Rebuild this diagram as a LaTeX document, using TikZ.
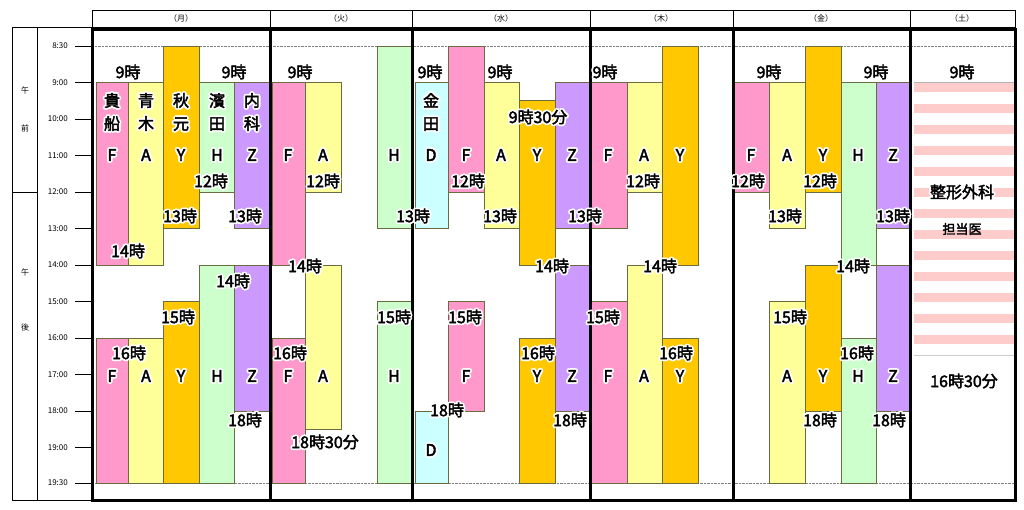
\documentclass[tikz,border=0pt]{standalone}
\usepackage{fontspec}
\newfontfamily\jp{Noto Sans CJK JP}[AutoFakeBold=2.5]
\definecolor{cF}{HTML}{FF99CC}
\definecolor{cA}{HTML}{FFFF99}
\definecolor{cY}{HTML}{FFC800}
\definecolor{cH}{HTML}{CCFFCC}
\definecolor{cZ}{HTML}{CC99FF}
\definecolor{cD}{HTML}{CCFFFF}
\definecolor{cS}{HTML}{FFCCCC}
\definecolor{bord}{HTML}{6B6B40}
\newcommand\tyy[2]{\pgfmathsetmacro#1{#2<9?46:(#2>19?483:82.5+(#2-9)*36.5)}}
\newcommand\tb[5]{\tyy\ya{#3}\tyy\yb{#4}\draw[bb,fill=#5] (#1,\ya) rectangle (#2,\yb);}
\newcommand\lb[3]{\foreach \dx/\dy in {1.8/0,-1.8/0,0/1.8,0/-1.8,1.3/1.3,-1.3/1.3,1.3/-1.3,-1.3/-1.3}{\node[lbl,text=white] at (#1+\dx,#2+\dy){#3};}\node[lbl] at (#1,#2){#3};}
\begin{document}
\begin{tikzpicture}[x=1pt,y=-1pt,
  bb/.style={draw=bord,line width=0.6pt},
  lbl/.style={font=\jp\fontsize{16}{23}\selectfont\bfseries,inner sep=0pt,align=center},
  small/.style={font=\jp\fontsize{8}{9}\selectfont,inner sep=0pt},
  thick frame/.style={line width=3pt,line cap=rect}]
\useasboundingbox[fill=white] (0,0) rectangle (1024,509);
% Saturday stripes
\foreach \k in {0,...,12}{\fill[cS] (914,82.5+\k*21) rectangle (1015,82.5+\k*21+9);}
\draw[gray!40] (914,355.5) -- (1015,355.5);
\draw[gray!60] (914,82.5) -- (1015,82.5);
% dotted lines
\draw[gray,densely dotted] (92,46) -- (1015,46);
\draw[gray,densely dotted] (92,483) -- (1015,483);
% Monday
\tb{96}{128}{9}{14}{cF}\tb{96}{128}{16}{19.5}{cF}
\tb{128}{163}{9}{14}{cA}\tb{128}{163}{16}{19.5}{cA}
\tb{163}{199}{8.5}{13}{cY}\tb{163}{199}{15}{19.5}{cY}
\tb{199}{234}{9}{12}{cH}\tb{199}{234}{14}{19.5}{cH}
\tb{234}{269}{9}{13}{cZ}\tb{234}{269}{14}{18}{cZ}
% Tuesday
\tb{272}{305}{9}{14}{cF}\tb{272}{305}{16}{19.5}{cF}
\tb{305}{341}{9}{12}{cA}\tb{305}{341}{14}{18.5}{cA}
\tb{377}{411}{8.5}{13}{cH}\tb{377}{411}{15}{19.5}{cH}
% Wednesday
\tb{415}{448}{9}{13}{cD}\tb{415}{448}{18}{19.5}{cD}
\tb{448}{484}{8.5}{12}{cF}\tb{448}{484}{15}{18}{cF}
\tb{484}{519}{9}{13}{cA}
\tb{519}{555}{9.5}{14}{cY}\tb{519}{555}{16}{19.5}{cY}
\tb{555}{590}{9}{13}{cZ}\tb{555}{590}{14}{18}{cZ}
% Thursday
\tb{590}{627}{9}{13}{cF}\tb{590}{627}{15}{19.5}{cF}
\tb{627}{662}{9}{12}{cA}\tb{627}{662}{14}{19.5}{cA}
\tb{662}{698}{8.5}{14}{cY}\tb{662}{698}{16}{19.5}{cY}
% Friday
\tb{734}{769}{9}{12}{cF}
\tb{769}{805}{9}{13}{cA}\tb{769}{805}{15}{19.5}{cA}
\tb{805}{841}{8.5}{12}{cY}\tb{805}{841}{14}{18}{cY}
\tb{841}{876}{9}{14}{cH}\tb{841}{876}{16}{19.5}{cH}
\tb{876}{911}{9}{13}{cZ}\tb{876}{911}{14}{18}{cZ}
% header
\draw[line width=0.6pt] (92,10) rectangle (1015,27);
\foreach \x in {270,412,590,733,910}{\draw[line width=0.6pt] (\x,10) -- (\x,27);}
\node[small] (h1) at (181,18) {（月）};
\node[small] (h2) at (341,18) {（火）};
\node[small] (h3) at (501,18) {（水）};
\node[small] (h4) at (661,18) {（木）};
\node[small] (h5) at (821,18) {（金）};
\node[small] (h6) at (962,18) {（土）};
% left axis
\draw[line width=0.6pt] (12,27) -- (92,27);
\draw[line width=0.6pt] (12,27) -- (12,500) -- (92,500);
\draw[line width=0.6pt] (37,27) -- (37,500);
\draw[line width=0.6pt] (12,192) -- (37,192);
\node[small] (am1) at (25,90) {午};
\node[small] (am2) at (25,128) {前};
\node[small] (pm1) at (25,272) {午};
\node[small] (pm2) at (25,327) {後};
\foreach \t/\yy in {8:30/46,9:00/82.5,10:00/119,11:00/155.5,12:00/192,13:00/228.5,14:00/265,15:00/301.5,16:00/338,17:00/374.5,18:00/411,19:00/447.5,19:30/483}{
  \node[small,anchor=east] at (68,\yy) {\t};
  \draw[line width=0.6pt] (75,\yy) -- (92,\yy);}
% thick frames
\foreach \a/\b in {92/270,270/412,412/590,590/733,733/910,910/1015}{\draw[thick frame] (\a,29) rectangle (\b,500);}
% Monday labels
\lb{128}{72}{9時}\lb{234}{72}{9時}
\lb{112}{112}{貴\\船}\lb{146}{112}{青\\木}\lb{181}{112}{秋\\元}\lb{217}{112}{濱\\田}\lb{252}{112}{内\\科}
\lb{112}{155}{F}\lb{146}{155}{A}\lb{181}{155}{Y}\lb{217}{155}{H}\lb{252}{155}{Z}
\lb{211}{181}{12時}\lb{180}{216}{13時}\lb{245}{216}{13時}\lb{128}{251}{14時}
\lb{233}{281}{14時}\lb{178}{317}{15時}\lb{129}{353}{16時}
\lb{112}{376}{F}\lb{146}{376}{A}\lb{181}{376}{Y}\lb{217}{376}{H}\lb{252}{376}{Z}
\lb{245}{420}{18時}
% Tuesday labels
\lb{300}{72}{9時}\lb{288}{155}{F}\lb{323}{155}{A}\lb{394}{155}{H}
\lb{323}{181}{12時}\lb{413}{216}{13時}\lb{305}{266}{14時}\lb{394}{317}{15時}
\lb{290}{353}{16時}\lb{288}{376}{F}\lb{323}{376}{A}\lb{394}{376}{H}
\lb{325}{442}{18時30分}
% Wednesday labels
\lb{430}{72}{9時}\lb{500}{72}{9時}\lb{431}{112}{金\\田}
\lb{431}{155}{D}\lb{466}{155}{F}\lb{501}{155}{A}\lb{537}{155}{Y}\lb{572}{155}{Z}
\lb{538}{117}{9時30分}\lb{468}{181}{12時}\lb{500}{216}{13時}\lb{585}{216}{13時}
\lb{552}{266}{14時}\lb{465}{317}{15時}\lb{466}{376}{F}\lb{447}{410}{18時}
\lb{431}{450}{D}\lb{538}{353}{16時}\lb{537}{376}{Y}\lb{572}{376}{Z}\lb{570}{420}{18時}
% Thursday labels
\lb{605}{72}{9時}\lb{608}{155}{F}\lb{644}{155}{A}\lb{680}{155}{Y}
\lb{643}{181}{12時}\lb{660}{266}{14時}\lb{603}{317}{15時}\lb{676}{353}{16時}
\lb{608}{376}{F}\lb{644}{376}{A}\lb{680}{376}{Y}
% Friday labels
\lb{769}{72}{9時}\lb{876}{72}{9時}
\lb{751}{155}{F}\lb{787}{155}{A}\lb{823}{155}{Y}\lb{858}{155}{H}\lb{893}{155}{Z}
\lb{748}{181}{12時}\lb{820}{181}{12時}\lb{785}{216}{13時}\lb{893}{216}{13時}
\lb{853}{266}{14時}\lb{790}{317}{15時}\lb{857}{353}{16時}
\lb{787}{376}{A}\lb{823}{376}{Y}\lb{858}{376}{H}\lb{893}{376}{Z}
\lb{820}{420}{18時}\lb{889}{420}{18時}
% Saturday labels
\lb{962}{72}{9時}\lb{962}{192}{整形外科}
\node[lbl,font=\jp\fontsize{13}{15}\selectfont\bfseries] (tan) at (962,229) {担当医};
\lb{964}{381}{16時30分}
\end{tikzpicture}
\end{document}
